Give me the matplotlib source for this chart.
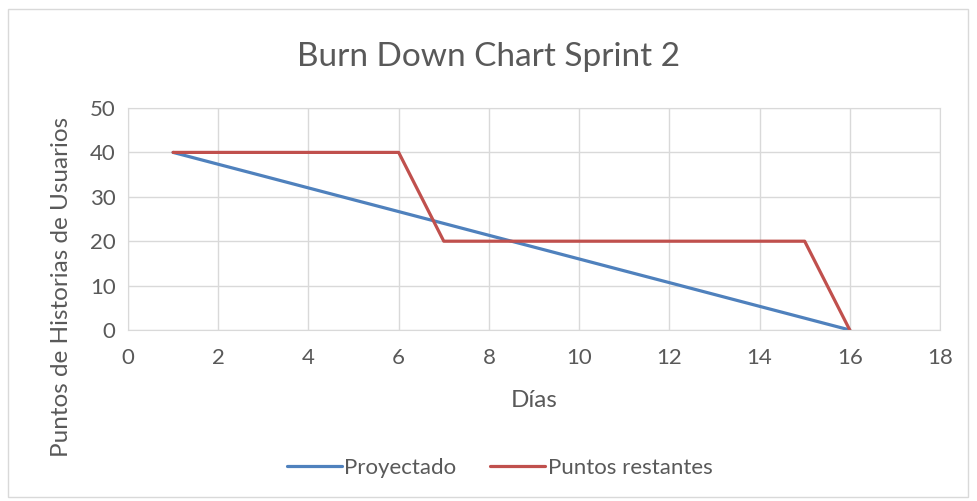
import matplotlib.pyplot as plt
from matplotlib.patches import Rectangle

dias = [1, 2, 3, 4, 5, 6, 7, 8, 9, 10, 11, 12, 13, 14, 15, 16]
proyectado = [40, 37.33, 34.67, 32, 29.33, 26.67, 24, 21.33, 18.67, 16, 13.33, 10.67, 8, 5.33, 2.67, 0]
restantes = [40, 40, 40, 40, 40, 40, 20, 20, 20, 20, 20, 20, 20, 20, 20, 0]

plt.rcParams['font.family'] = ['Lato', 'DejaVu Sans']
gris = '#595959'

fig = plt.figure(figsize=(9.77, 5.01), dpi=100)
fig.patches.append(Rectangle((8 / 977, 4 / 501), 960 / 977, 488 / 501, transform=fig.transFigure,
                             fill=False, edgecolor='#d9d9d9', linewidth=1))
ax = fig.add_axes([128 / 977, 1 - 330 / 501, 812 / 977, 222 / 501])

ax.plot(dias, proyectado, color='#4F81BD', linewidth=2.3, label='Proyectado', solid_capstyle='round')
ax.plot(dias, restantes, color='#C0504D', linewidth=2.3, label='Puntos restantes', solid_capstyle='round')

ax.set_xlim(0, 18)
ax.set_ylim(0, 50)
ax.set_xticks(range(0, 19, 2))
ax.set_yticks(range(0, 51, 10))
ax.grid(color='#d9d9d9', linewidth=1)
ax.set_axisbelow(True)
for s in ax.spines.values():
    s.set_color('#d9d9d9')
ax.tick_params(axis='x', length=0, labelsize=16, colors=gris, pad=13)
ax.tick_params(axis='y', length=0, labelsize=16, colors=gris, pad=9)

ax.set_xlabel('Días', fontsize=17.5, color=gris, labelpad=16)
ax.set_ylabel('Puntos de Historias de Usuarios', fontsize=17.5, color=gris)
ax.yaxis.set_label_coords(-0.069, 0.194)
fig.text(0.5, 1 - 57 / 501, 'Burn Down Chart Sprint 2', ha='center', va='center', fontsize=24, color=gris)

fig.legend(loc='center', bbox_to_anchor=(0.5 + 11 / 977, 1 - 468 / 501), ncol=2, frameon=False,
           fontsize=16, labelcolor=gris, handlelength=2.5, handletextpad=0.1, columnspacing=1.5)

plt.savefig('out.png', dpi=100)
